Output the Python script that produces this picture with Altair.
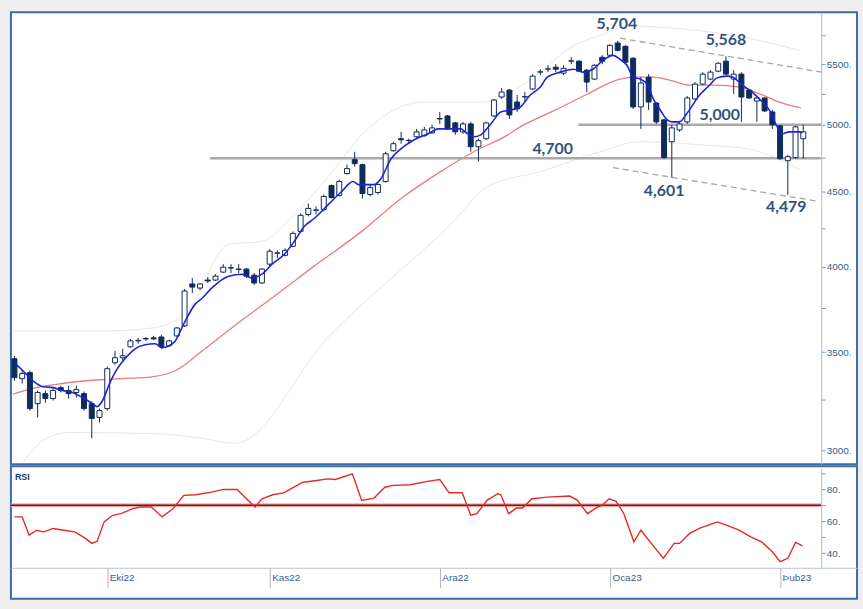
import altair as alt
import pandas as pd

# ---------------- data ----------------
open_ = [3464, 3357, 3389, 3228, 3279, 3254, 3310, 3295, 3285, 3279,
         3228, 3159, 3203, 3442, 3469, 3529, 3562, 3573, 3579, 3584,
         3535, 3590, 3647, 3895, 3870, 3919, 3919, 3968, 3993, 3987,
         3987, 3949, 3901, 4018, 4087, 4074, 4132, 4230, 4344, 4372,
         4378, 4545, 4475, 4632, 4734, 4697, 4482, 4496, 4574, 4801,
         4892, 4877, 4907, 4915, 4937, 5046, 5070, 5015, 4945, 5007,
         4831, 4892, 5070, 5223, 5280, 5182, 5223, 5289, 5431, 5456,
         5473, 5422, 5525, 5525, 5448, 5372, 5559, 5577, 5685, 5656,
         5551, 5142, 5388, 5174, 5039, 4869, 4960, 5023, 5207, 5330,
         5372, 5439, 5525, 5372, 5414, 5280, 5190, 5215, 5102, 4992,
         4726, 4749, 4892]
high = [3480, 3404, 3399, 3295, 3295, 3310, 3320, 3320, 3320, 3290,
        3239, 3203, 3421, 3507, 3518, 3573, 3579, 3584, 3590, 3596,
        3568, 3641, 3864, 3931, 3901, 3937, 3955, 4018, 4018, 4018,
        3993, 3962, 3993, 4113, 4106, 4119, 4230, 4351, 4419, 4399,
        4482, 4553, 4588, 4697, 4793, 4704, 4553, 4560, 4793, 4869,
        4945, 4892, 4968, 4984, 5000, 5102, 5078, 5023, 5023, 5023,
        4892, 5023, 5207, 5297, 5289, 5240, 5264, 5414, 5456, 5490,
        5499, 5490, 5559, 5533, 5456, 5499, 5577, 5673, 5704, 5664,
        5559, 5388, 5414, 5182, 5046, 5000, 5031, 5231, 5347, 5431,
        5448, 5516, 5568, 5448, 5431, 5289, 5223, 5223, 5118, 5000,
        4771, 4992, 5000]
low = [3346, 3331, 3193, 3159, 3233, 3244, 3285, 3254, 3259, 3193,
       3057, 3134, 3193, 3431, 3453, 3524, 3546, 3562, 3568, 3518,
       3529, 3584, 3641, 3840, 3858, 3901, 3913, 3962, 3962, 3962,
       3931, 3889, 3895, 4005, 4056, 4068, 4126, 4223, 4331, 4344,
       4365, 4454, 4468, 4625, 4682, 4454, 4468, 4482, 4567, 4793,
       4854, 4854, 4892, 4907, 4930, 5007, 4960, 4922, 4930, 4793,
       4719, 4884, 5062, 5207, 5046, 5102, 5182, 5280, 5405, 5431,
       5431, 5405, 5499, 5431, 5264, 5364, 5499, 5568, 5610, 5499,
       5126, 4968, 5118, 5007, 4741, 4601, 4945, 5007, 5198, 5322,
       5364, 5431, 5405, 5248, 5023, 5207, 5023, 5102, 4968, 4734,
       4479, 4741, 4741]
close = [3362, 3384, 3203, 3285, 3254, 3295, 3295, 3279, 3300, 3203,
         3154, 3193, 3410, 3469, 3480, 3562, 3565, 3575, 3573, 3529,
         3562, 3635, 3852, 3876, 3895, 3913, 3943, 3999, 3996, 3985,
         3943, 3901, 3987, 4100, 4090, 4106, 4217, 4338, 4385, 4375,
         4468, 4461, 4574, 4668, 4704, 4489, 4531, 4553, 4778, 4854,
         4884, 4880, 4945, 4960, 4976, 5050, 4968, 4945, 5007, 4831,
         4877, 5015, 5198, 5264, 5078, 5126, 5226, 5397, 5434, 5459,
         5456, 5464, 5528, 5439, 5347, 5490, 5525, 5664, 5620, 5516,
         5142, 5339, 5182, 5023, 4749, 4976, 5007, 5215, 5330, 5414,
         5431, 5507, 5414, 5414, 5223, 5215, 5215, 5110, 5000, 4741,
         4756, 4984, 4945]

# short moving average (blue)
blue_x = [0.1, 1.1, 2.4, 3.7, 5.0, 6.2, 7.5, 8.8, 10.1, 10.7, 11.4, 12.3, 13.3, 14.4,
          15.6, 16.9, 18.2, 19.1, 20.0, 20.8, 21.9, 23.4, 24.3, 25.5, 27.7, 29.4, 30.7,
          32.0, 33.3, 34.9, 36.2, 37.5, 38.8, 40.6, 42.3, 43.8, 44.5, 45.2, 46.5, 47.4,
          48.7, 50.0, 51.7, 53.5, 54.8, 56.4, 57.7, 58.6, 59.4, 60.3, 61.6, 62.9, 64.2,
          65.4, 66.7, 68.0, 68.9, 70.6, 72.3, 73.6, 74.8, 76.1, 77.4, 78.3, 79.2, 80.0,
          80.9, 81.8, 82.6, 83.5, 84.4, 85.1, 86.0, 86.9, 88.6, 89.9, 90.8, 92.1, 92.9,
          94.1, 95.4, 96.7, 97.6, 98.5, 99.3, 100.2, 101.5, 101.9]
blue_v = [3437, 3399, 3346, 3315, 3310, 3295, 3285, 3259, 3228, 3213, 3244, 3331, 3410, 3469,
          3518, 3540, 3546, 3524, 3535, 3562, 3659, 3775, 3810, 3870, 3943, 3955, 3931,
          3955, 4018, 4081, 4165, 4264, 4318, 4413, 4503, 4574, 4552, 4552, 4552, 4596,
          4741, 4816, 4884, 4930, 4968, 4968, 4968, 4930, 4907, 4922, 5007, 5102, 5118,
          5142, 5239, 5305, 5388, 5431, 5456, 5431, 5456, 5533, 5576, 5542, 5490, 5388,
          5372, 5331, 5207, 5118, 5039, 5023, 5023, 5086, 5239, 5322, 5380, 5397, 5388,
          5322, 5264, 5182, 5118, 5000, 4930, 4945, 4945, 4937]

# long moving average (red)
red_x = [-0.2, 2.8, 5.0, 9.2, 13.6, 17.8, 20.8, 24.3, 28.8, 33.3, 38.4, 44.9, 50.0, 55.1,
         59.4, 63.8, 65.4, 68.0, 69.7, 74.1, 78.3, 80.5, 82.6, 84.7, 87.3, 90.3, 93.8,
         96.7, 98.9, 101.7]
red_v = [3276, 3310, 3325, 3346, 3357, 3367, 3399, 3507, 3659, 3810, 3993, 4230, 4454, 4646,
         4793, 4922, 4984, 5062, 5110, 5248, 5372, 5388, 5388, 5364, 5322, 5322, 5305,
         5240, 5182, 5134]

# bands (light grey)
upper_x = [-0.2, 11.4, 17.8, 22.1, 27.7, 32.0, 36.2, 40.6, 44.9, 53.0, 60.3, 68.0, 71.9,
           75.7, 79.6, 83.5, 88.6, 96.3, 101.5]
upper_v = [3618, 3618, 3635, 3716, 4145, 4165, 4344, 4610, 4922, 5182, 5182, 5431, 5647,
           5753, 5840, 5827, 5796, 5708, 5620]
lower_x = [1.1, 3.7, 7.1, 17.8, 24.3, 28.5, 40.6, 56.4, 61.2, 68.0, 75.7, 80.9, 88.6,
           94.7, 101.5]
lower_v = [2945, 3047, 3085, 3080, 3057, 3033, 3584, 4277, 4538, 4646, 4793, 4869, 4846,
           4816, 4661]

# RSI
rsi_x = [0.0, 1.0, 1.9, 2.9, 3.8, 5.0, 6.4, 7.8, 9.2, 10.0, 10.7, 11.6, 12.7, 13.8, 15.3,
         16.3, 17.7, 19.1, 20.5, 21.9, 23.4, 25.5, 27.0, 28.8, 30.2, 31.1, 32.0, 33.4,
         34.8, 37.3, 39.1, 40.5, 41.5, 43.7, 44.9, 46.5, 47.9, 49.0, 51.2, 53.2, 55.0,
         56.2, 57.9, 59.0, 59.8, 61.1, 62.5, 62.9, 63.9, 64.9, 65.7, 66.9, 68.9, 71.8,
         72.8, 74.1, 75.4, 76.0, 76.9, 77.8, 78.8, 80.1, 81.0, 83.9, 85.3, 86.0, 87.3,
         88.7, 90.9, 92.3, 93.7, 95.2, 96.6, 98.0, 99.0, 100.0, 101.0, 101.9]
rsi_v = [62.7, 62.7, 51.3, 54.4, 53.4, 55.5, 54.4, 53.4, 49.3, 46.2, 47.6, 59.6, 63.7, 64.7,
         67.8, 68.9, 68.9, 62.7, 67.8, 76.1, 76.5, 78.1, 79.8, 79.8, 73.0, 68.9, 74.0,
         76.5, 77.7, 84.3, 85.4, 86.4, 86.0, 89.5, 73.0, 74.4, 81.2, 82.3, 82.7, 84.7,
         86.0, 77.7, 77.7, 63.7, 64.7, 73.0, 77.1, 76.5, 64.7, 68.2, 68.2, 74.0, 75.0,
         75.7, 73.0, 64.7, 68.9, 69.9, 74.0, 72.4, 64.7, 47.2, 54.4, 36.9, 46.2, 46.2,
         52.4, 55.9, 59.6, 57.1, 54.4, 50.3, 47.2, 41.0, 34.8, 36.9, 46.8, 44.7]
rsi_level = [70]

# support / resistance lines and channel
sr_level = [5000, 4745]
sr_start = [72.9, 25.3]
chan_x = [78.3, 104.4, 77.4, 104.1]
chan_v = [5728, 5431, 4675, 4433]
chan_g = ["up", "up", "down", "down"]

# annotations
ann_text = ["5,704", "5,568", "5,000", "4,700", "4,601", "4,479"]
ann_x = [77.9, 92.0, 91.2, 69.6, 84.0, 99.8]
ann_v = [5858, 5713, 5079, 4816, 4503, 4392]

# axes
month_idx = [12, 33, 55, 77, 99]
month_lbl = ["Eki22", "Kas22", "Ara22", "Oca23", "Þub23"]
price_ticks = [3000, 3250, 3500, 3750, 4000, 4250, 4500, 4750, 5000, 5250, 5500, 5750]
rsi_ticks = [40, 50, 60, 70, 80, 90]

# ---------------- styling ----------------
NAVY = "#0f2b5b"
AX_TXT = "#3a5d8c"
LFONT = "'Liberation Sans Narrow', 'Liberation Sans', sans-serif"
X_DOM = [-0.45, 108.95]
AXIS_AT = 104.3
W = 850

xs = alt.Scale(domain=X_DOM, nice=False, zero=False, padding=0)
ys = alt.Scale(type="log", domain=[2935, 5965], nice=False)
rs = alt.Scale(domain=[31, 93], range=[102, 2], nice=False, zero=False)

y_axis = alt.Axis(orient="right", offset=-36, values=price_ticks,
                  labelExpr="datum.value % 500 == 0 ? datum.value + '.' : ''",
                  title=None, grid=False, tickSize=4, tickColor="#7d97bb",
                  domainColor="#a9bbd3", labelColor=AX_TXT, labelFontSize=10,
                  labelFont=LFONT, labelPadding=1)
r_axis = alt.Axis(orient="right", offset=-36, values=rsi_ticks,
                  labelExpr="datum.value % 20 == 0 ? datum.value + '.' : ''",
                  title=None, grid=False, tickSize=4, tickColor="#7d97bb",
                  domainColor="#a9bbd3", labelColor=AX_TXT, labelFontSize=10,
                  labelFont=LFONT, labelPadding=1)
lbl_expr = " : ".join(f"datum.value == {i} ? '{l}'" for i, l in zip(month_idx, month_lbl)) + " : ''"
x_axis = alt.Axis(orient="bottom", offset=-31, values=month_idx, labelExpr=lbl_expr,
                  title=None, grid=False, tickSize=20, tickColor="#b3b3b3",
                  domainColor="#b7c4d6", labelColor=AX_TXT, labelFontSize=10,
                  labelFont=LFONT, labelAlign="left", labelPadding=-15, labelOffset=2,
                  labelFlush=False, labelOverlap=False)

def X(field):
    return alt.X(field, type="quantitative", scale=xs, axis=None)

def Y(field):
    return alt.Y(field, type="quantitative", scale=ys, axis=y_axis)

df = pd.DataFrame({"idx": list(range(len(close))), "open": open_, "high": high,
                   "low": low, "close": close})

upper = alt.Chart(pd.DataFrame({"x": upper_x, "v": upper_v})).mark_line(
    color="#e6e6e6", strokeWidth=1, interpolate="monotone").encode(x=X("x"), y=Y("v"))
lower = alt.Chart(pd.DataFrame({"x": lower_x, "v": lower_v})).mark_line(
    color="#e6e6e6", strokeWidth=1, interpolate="monotone", clip=True).encode(x=X("x"), y=Y("v"))
red = alt.Chart(pd.DataFrame({"x": red_x, "v": red_v})).mark_line(
    color="#f07a7a", strokeWidth=1.3, interpolate="monotone").encode(x=X("x"), y=Y("v"))
sr = alt.Chart(pd.DataFrame({"x": sr_start, "x2": [AXIS_AT] * len(sr_start), "v": sr_level})).mark_rule(
    color="#a9a9a9", strokeWidth=2.5).encode(x=X("x"), x2="x2", y=Y("v"))
chan = alt.Chart(pd.DataFrame({"x": chan_x, "v": chan_v, "g": chan_g})).mark_line(
    color="#a6a6a6", strokeWidth=1.3, strokeDash=[6, 4]).encode(x=X("x"), y=Y("v"), detail="g:N")
wicks = alt.Chart(df).mark_rule(color=NAVY, strokeWidth=1).encode(x=X("idx"), y=Y("low"), y2="high")
bodies = alt.Chart(df).mark_bar(size=5, stroke=NAVY, strokeWidth=1).encode(
    x=X("idx"), y=Y("open"), y2="close",
    fill=alt.condition("datum.close >= datum.open", alt.value("white"), alt.value(NAVY)))
blue = alt.Chart(pd.DataFrame({"x": blue_x, "v": blue_v})).mark_line(
    color="#1f22d8", strokeWidth=1.6, interpolate="monotone").encode(x=X("x"), y=Y("v"))
ann = alt.Chart(pd.DataFrame({"x": ann_x, "v": ann_v, "t": ann_text})).mark_text(
    font="Lato", fontSize=16, fontWeight="bold", color="#34537c").encode(
    x=X("x"), y=Y("v"), text="t:N")

main = alt.layer(upper, lower, red, sr, chan, wicks, bodies, blue, ann).properties(
    width=W, height=454)

def XR(field):
    return alt.X(field, type="quantitative", scale=xs, axis=x_axis)

def YR(field):
    return alt.Y(field, type="quantitative", scale=rs, axis=r_axis)

lvl_df = pd.DataFrame({"v": rsi_level, "x": [X_DOM[0]], "x2": [AXIS_AT]})
halo = alt.Chart(lvl_df).mark_rule(color="#f0b0b0", strokeWidth=4).encode(x=XR("x"), x2="x2", y=YR("v"))
lvl = alt.Chart(lvl_df).mark_rule(color="#7d1010", strokeWidth=1.6).encode(x=XR("x"), x2="x2", y=YR("v"))
rsi_line = alt.Chart(pd.DataFrame({"x": rsi_x, "v": rsi_v})).mark_line(
    color="#e52a2a", strokeWidth=1.4).encode(x=XR("x"), y=YR("v"))
rsi_lbl = alt.Chart(pd.DataFrame({"x": [0.06], "v": [87.5], "t": ["RSI"]})).mark_text(
    align="left", baseline="middle", font="'Liberation Sans', sans-serif", fontSize=9,
    fontWeight="bold", color="#1f3a68").encode(x=XR("x"), y=YR("v"), text="t:N")

rsi = alt.layer(halo, lvl, rsi_line, rsi_lbl).properties(width=W, height=133)

chart = alt.vconcat(main, rsi, spacing=0).properties(
    padding={"left": 8, "top": 10, "right": 5, "bottom": 12},
    background="#eeeeee",
).configure_view(fill="white", stroke="#3e6ca4", strokeWidth=2)

chart.save("out.html", embed_options={"renderer": "svg", "actions": False})
